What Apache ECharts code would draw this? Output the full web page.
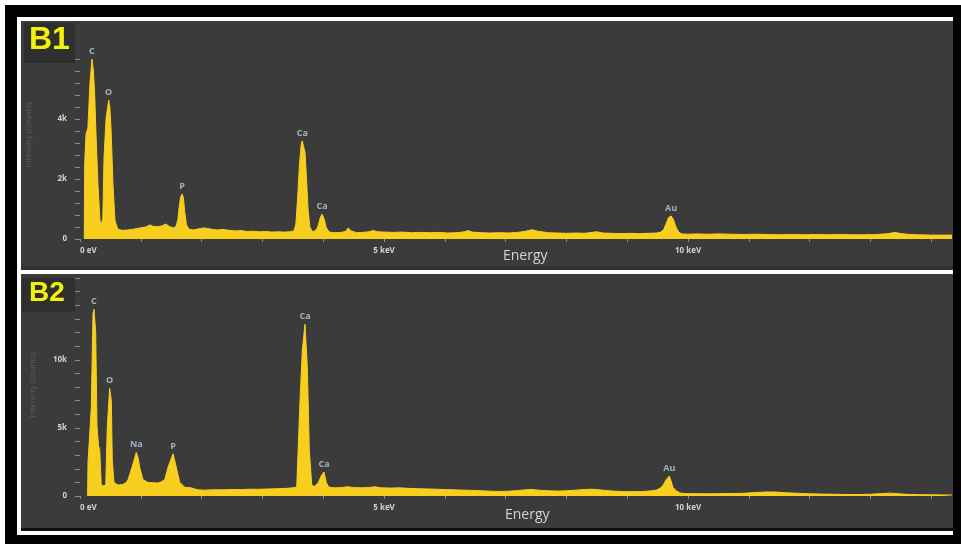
<!DOCTYPE html>
<html><head><meta charset="utf-8">
<script src="https://cdn.jsdelivr.net/npm/echarts/dist/echarts.min.js"></script>
<style>html,body{margin:0;padding:0;background:#fff}#c{width:961px;height:544px}</style>
</head><body><div id="c"></div>
<script>
// ---------- data ----------
const b1Energy = [0.070,0.077,0.090,0.099,0.130,0.164,0.197,0.220,0.242,0.263,0.296,0.329,0.354,0.375,0.395,0.428,0.472,0.490,0.510,0.543,0.576,0.625,
0.70,0.78,0.86,0.94,1.02,1.08,1.15,1.21,1.28,1.35,1.41,1.47,1.53,1.58,1.61,1.63,1.655,1.68,1.70,1.72,1.75,1.79,
1.86,1.95,2.05,2.15,2.25,2.35,2.45,2.55,2.65,2.75,2.85,2.95,3.05,3.15,3.25,3.35,3.45,3.52,3.55,3.58,3.61,3.64,3.655,3.68,3.70,3.72,3.75,3.78,3.82,3.87,3.91,3.95,3.98,4.01,4.05,4.10,
4.20,4.30,4.37,4.41,4.46,4.55,4.65,4.75,4.82,4.90,5.0,5.15,5.3,5.45,5.6,5.75,5.9,6.05,6.2,6.32,6.38,6.45,6.6,6.75,6.9,7.05,7.2,7.33,7.43,7.53,7.7,7.85,8.0,8.15,8.3,8.42,8.5,8.6,8.75,8.9,9.05,9.2,9.35,9.48,
9.55,9.6,9.64,9.68,9.72,9.76,9.8,9.85,9.9,10.0,10.15,10.3,10.5,10.7,10.9,11.1,11.3,11.5,11.7,11.9,12.1,12.3,12.5,12.7,12.9,13.1,13.3,13.4,13.5,13.65,13.8,14.0,14.2,14.34];
const b1Counts = [0,2500,2550,3500,3700,5200,6000,5600,4800,3500,1800,600,500,700,2700,4000,4630,4400,3700,1800,600,320,
290,300,320,350,380,400,470,420,410,440,500,420,370,420,650,1050,1400,1500,1380,950,480,330,
300,340,370,330,300,320,290,270,280,250,260,240,250,230,240,230,240,270,500,1400,2500,3200,3270,3050,2900,2200,1000,400,250,270,400,700,830,700,380,230,
210,220,260,370,270,210,220,240,280,240,230,220,230,210,220,210,220,200,210,240,280,230,210,200,210,200,220,260,310,260,210,200,190,200,190,220,240,200,190,180,190,180,190,200,
230,320,520,720,770,650,400,220,170,160,170,160,170,160,150,160,150,140,150,140,150,140,150,140,140,150,180,220,180,150,140,130,130,130];

const b2Energy = [0.125,0.132,0.160,0.186,0.214,0.230,0.258,0.280,0.305,0.324,0.350,0.390,0.423,0.449,0.488,0.515,0.531,0.559,0.625,0.70,0.75,0.79,0.855,0.926,0.955,0.982,1.036,1.118,1.20,1.283,1.34,1.393,1.447,1.53,1.584,1.64,1.722,1.826,1.94,
2.05,2.2,2.35,2.5,2.65,2.8,2.95,3.1,3.25,3.4,3.5,3.564,3.618,3.656,3.70,3.738,3.771,3.811,3.86,3.92,3.97,4.013,4.05,4.084,4.13,4.2,4.3,4.4,4.5,4.65,4.75,4.85,4.95,5.1,5.25,5.4,5.55,5.7,5.85,6.0,6.15,6.3,6.45,6.6,6.75,6.9,
7.05,7.2,7.32,7.42,7.55,7.7,7.85,8.0,8.15,8.3,8.4,8.5,8.65,8.8,8.95,9.1,9.25,9.4,9.49,9.55,9.59,9.64,9.69,9.72,9.75,9.8,9.87,9.95,10.1,10.3,10.5,10.7,10.9,11.1,11.3,11.45,11.6,11.8,12.0,12.2,12.4,12.6,12.8,13.0,13.2,13.32,13.45,13.6,13.8,14.0,14.2,14.34];
const b2Counts = [0,2500,2600,6500,13400,13700,12000,5100,3700,3400,800,750,800,5100,7900,7000,2600,1000,800,850,950,1200,2100,3200,2800,2100,1200,1000,980,950,1050,1200,2100,3100,2100,1000,650,600,450,
430,460,450,480,470,500,490,520,540,560,600,650,7000,10700,12600,9500,3400,800,700,1000,1500,1760,1000,700,620,600,620,680,620,600,620,680,600,580,600,560,540,520,500,470,450,430,410,380,350,330,
350,400,450,480,420,380,360,380,430,480,500,470,400,350,320,320,330,380,450,600,800,1200,1470,1100,650,400,220,180,170,160,170,180,200,250,300,290,240,200,160,140,130,110,110,130,180,210,170,120,100,90,80,80];

const b1PeakNames = ['C','O','P','Ca','Ca','Au'];
const b1PeakEnergy = [0.197,0.472,1.68,3.655,3.98,9.72];
const b1PeakCounts = [6000,4630,1500,3270,830,770];

const b2PeakNames = ['C','O','Na','P','Ca','Ca','Au'];
const b2PeakEnergy = [0.230,0.488,0.926,1.53,3.70,4.013,9.69];
const b2PeakCounts = [13700,7900,3200,3100,12600,1760,1470];

const xMax = 14.34;
const xLabelValues = [0,5,10];
const xLabelTexts = ['0 eV','5 keV','10 keV'];
const b1YMax = 6000, b1YStep = 400;
const b1YLabelValues = [0,2000,4000];
const b1YLabelTexts = ['0','2k','4k'];
const b2YMax = 16000, b2YStep = 1000;
const b2YLabelValues = [0,5000,10000];
const b2YLabelTexts = ['0','5k','10k'];

// ---------- styling ----------
const YELLOW = '#f8cf1f';
const PANEL = '#3b3b3b';
const TXT = '#d2d2d2';
const FONT = '"Open Sans", "Noto Sans", sans-serif';

function xAxisCfg(gi){
  return {type:'value', gridIndex:gi, min:0, max:xMax, interval:1,
    axisLine:{show:false}, splitLine:{show:false},
    axisTick:{show:true, length:3, lineStyle:{color:'#8d8d8d', width:1}},
    axisLabel:{margin:8, color:TXT, fontSize:8, fontWeight:'bold', fontFamily:FONT,
      showMaxLabel:false, alignMinLabel:'left',
      formatter:v=>{const i=xLabelValues.indexOf(Math.round(v*1000)/1000); return i>=0?xLabelTexts[i]:'';}}};
}
function yAxisCfg(gi,max,step,vals,texts){
  return {type:'value', gridIndex:gi, min:0, max:max, interval:step, offset:3,
    axisLine:{show:false}, splitLine:{show:false},
    axisTick:{show:true, length:5, lineStyle:{color:'#8d8d8d', width:1}},
    axisLabel:{margin:10, color:TXT, fontSize:8, fontWeight:'bold', fontFamily:FONT,
      formatter:v=>{const i=vals.indexOf(v); return i>=0?texts[i]:'';}}};
}
function spectrum(gi,E,C){
  return {type:'line', xAxisIndex:gi, yAxisIndex:gi, data:E.map((e,i)=>[e,C[i]]),
    symbol:'none', silent:true, lineStyle:{color:YELLOW,width:1}, areaStyle:{color:YELLOW,opacity:1}, z:3};
}
function peakLabels(gi,N,E,C){
  return {type:'scatter', xAxisIndex:gi, yAxisIndex:gi, symbolSize:0, silent:true, z:5, clip:false,
    data:N.map((n,i)=>({name:n, value:[E[i],C[i]]})),
    label:{show:true, position:'top', distance:3, formatter:'{b}', color:'#b9cde2', fontSize:9, fontWeight:'bold', fontFamily:FONT}};
}

const chart = echarts.init(document.getElementById('c'), null, {renderer:'canvas'});
chart.setOption({
  animation:false,
  backgroundColor:'#ffffff',
  grid:[
    {left:80, top:59, width:872, height:180},
    {left:80, top:278, width:872, height:218}
  ],
  xAxis:[xAxisCfg(0), xAxisCfg(1)],
  yAxis:[yAxisCfg(0,b1YMax,b1YStep,b1YLabelValues,b1YLabelTexts), yAxisCfg(1,b2YMax,b2YStep,b2YLabelValues,b2YLabelTexts)],
  series:[
    spectrum(0,b1Energy,b1Counts), spectrum(1,b2Energy,b2Counts),
    peakLabels(0,b1PeakNames,b1PeakEnergy,b1PeakCounts), peakLabels(1,b2PeakNames,b2PeakEnergy,b2PeakCounts)
  ],
  graphic:[
    {type:'rect', z:-10, shape:{x:5,y:5,width:956,height:539}, style:{fill:'#000'}},
    {type:'rect', z:-9, shape:{x:17,y:17,width:936,height:518}, style:{fill:'#fff'}},
    {type:'rect', z:-8, shape:{x:21,y:21,width:932,height:249}, style:{fill:PANEL}},
    {type:'rect', z:-8, shape:{x:21,y:274,width:932,height:254}, style:{fill:PANEL}},
    {type:'rect', z:-7, shape:{x:21,y:528,width:932,height:3}, style:{fill:'#111'}},
    {type:'rect', z:-7, shape:{x:21,y:266,width:932,height:4}, style:{fill:'#333'}},
    {type:'rect', z:10, shape:{x:24,y:23,width:51,height:40}, style:{fill:'#2f2f2f'}},
    {type:'text', z:11, left:29, top:24, style:{text:'B1', fill:'#f2f20a', font:'bold 32px "Liberation Sans", Arial, sans-serif'}},
    {type:'rect', z:10, shape:{x:22,y:278,width:53,height:34}, style:{fill:'#2f2f2f'}},
    {type:'text', z:11, left:29, top:279, style:{text:'B2', fill:'#f2f20a', font:'bold 28px "Liberation Sans", Arial, sans-serif'}},
    {type:'text', z:11, left:503, top:249, style:{text:'Energy', fill:'#d4d4d4', font:'14px "Open Sans", sans-serif'}},
    {type:'text', z:11, left:505, top:508, style:{text:'Energy', fill:'#d4d4d4', font:'14px "Open Sans", sans-serif'}},
    {type:'text', z:11, x:29, y:135, rotation:Math.PI/2, style:{text:'Intensity (Counts)', fill:'#5f5f5f', font:'8px "Open Sans", sans-serif', align:'center', verticalAlign:'middle'}},
    {type:'text', z:11, x:33, y:385, rotation:Math.PI/2, style:{text:'Intensity (Counts)', fill:'#5f5f5f', font:'8px "Open Sans", sans-serif', align:'center', verticalAlign:'middle'}}
  ]
});
</script>
</body></html>
